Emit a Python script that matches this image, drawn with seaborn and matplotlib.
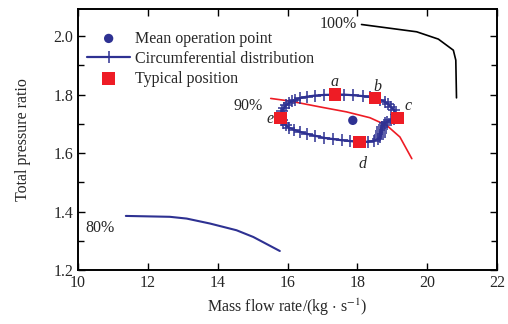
import numpy as np
import pandas as pd
import matplotlib
matplotlib.use("Agg")
import matplotlib.pyplot as plt
import seaborn as sns
from matplotlib.ticker import MultipleLocator

sns.set_style("ticks")
plt.rcParams['font.family'] = ['Liberation Serif', 'DejaVu Serif']
plt.rcParams['mathtext.fontset'] = 'stix'

# speed lines
x100 = [18.12, 19.70, 20.32, 20.75, 20.82, 20.84]
y100 = [2.040, 2.015, 1.990, 1.952, 1.918, 1.789]
x90 = [15.52, 16.07, 16.93, 17.69, 18.36, 18.84, 19.22, 19.56]
y90 = [1.787, 1.778, 1.758, 1.741, 1.721, 1.695, 1.655, 1.581]
x80 = [11.37, 12.63, 13.11, 13.78, 14.54, 15.02, 15.78]
y80 = [1.385, 1.382, 1.376, 1.359, 1.336, 1.313, 1.265]

# circumferential distribution (closed loop)
xc = [15.80, 15.82, 15.85, 15.90, 15.96, 16.03, 16.12, 16.22, 16.35, 16.55, 16.80, 17.05,
      17.36, 17.62, 17.88, 18.15, 18.35, 18.50, 18.65, 18.78, 18.88, 18.96, 19.04, 19.10,
      19.15, 19.05, 18.95, 18.86, 18.80, 18.75, 18.72, 18.70, 18.68, 18.67, 18.66, 18.64,
      18.58, 18.48, 18.30, 18.06, 17.80, 17.55, 17.30, 17.05, 16.80, 16.55, 16.35, 16.18,
      16.05, 15.95, 15.88, 15.83, 15.80]
yc = [1.721, 1.735, 1.745, 1.755, 1.763, 1.770, 1.777, 1.783, 1.788, 1.793, 1.797, 1.799,
      1.800, 1.800, 1.798, 1.795, 1.792, 1.789, 1.783, 1.776, 1.768, 1.758, 1.748, 1.735,
      1.721, 1.716, 1.712, 1.708, 1.703, 1.697, 1.690, 1.683, 1.676, 1.669, 1.662, 1.655,
      1.648, 1.642, 1.639, 1.638, 1.641, 1.644, 1.648, 1.652, 1.659, 1.666, 1.673, 1.680,
      1.687, 1.695, 1.703, 1.712, 1.721]

# mean operation point
xm = [17.87]
ym = [1.712]

# typical positions
pos_labels = ['a', 'b', 'c', 'd', 'e']
xt = [17.36, 18.50, 19.15, 18.06, 15.80]
yt = [1.800, 1.789, 1.721, 1.638, 1.721]

navy = '#2E3192'
red = '#EE1C25'

fig = plt.figure(figsize=(5.08, 3.24), dpi=100)
ax = fig.add_axes([78/508, 1-270/324, (497-78)/508, (270-9)/324])

kw = dict(ax=ax, sort=False, estimator=None, errorbar=None)
sns.lineplot(x=x100, y=y100, color='black', lw=1.2, **kw)
sns.lineplot(x=x90, y=y90, color=red, lw=1.2, **kw)
sns.lineplot(x=x80, y=y80, color=navy, lw=1.5, **kw)

sns.scatterplot(x=xm, y=ym, ax=ax, color=navy, s=45, edgecolor='none', zorder=5,
                label='Mean operation point')
sns.lineplot(x=xc, y=yc, color=navy, lw=1.6, marker='+',
             markersize=8, markeredgewidth=1.1, markeredgecolor=navy,
             label='Circumferential distribution', **kw)
sns.scatterplot(x=xt, y=yt, ax=ax, color=red, marker='s', s=80, edgecolor='none',
                zorder=6, label='Typical position')

# annotations
fs = 11.5
ax.text(18.0, 2.040, '100%', fontsize=fs, ha='right', va='center')
ax.text(15.3, 1.790, '90%', fontsize=fs, ha='right', va='top')
ax.text(10.2, 1.345, '80%', fontsize=fs, ha='left', va='center')
lab_off = {'a': (0.0, 0.043), 'b': (0.08, 0.036), 'c': (0.30, 0.041),
           'd': (0.10, -0.074), 'e': (-0.29, -0.003)}
for l, x, y in zip(pos_labels, xt, yt):
    dx, dy = lab_off[l]
    ax.text(x + dx, y + dy, l, fontsize=fs, style='italic', ha='center', va='center')

ax.set_xlim(10, 22)
ax.set_ylim(1.2, 2.093)
ax.xaxis.set_major_locator(MultipleLocator(2))
ax.yaxis.set_minor_locator(MultipleLocator(0.1))
ax.set_yticks([1.2, 1.4, 1.6, 1.8, 2.0])
ax.set_yticklabels(['1.2', '1.4', '1.6', '1.8', '2.0'])
ax.tick_params(which='both', direction='in', top=True, right=True, labelsize=fs,
               width=1.0, color='black')
ax.tick_params(which='major', length=5)
ax.tick_params(which='minor', length=4)
for s in ax.spines.values():
    s.set_linewidth(1.4)
    s.set_color('black')

ax.set_xlabel('Mass flow rate/(kg $\\cdot$ s$^{-1}$)', fontsize=fs, labelpad=4)
ax.set_ylabel('Total pressure ratio', fontsize=fs, labelpad=16)

leg = ax.legend(loc='upper left', frameon=False, fontsize=fs, handlelength=2.7,
                handletextpad=0.3, labelspacing=0.25, borderaxespad=0.3,
                bbox_to_anchor=(-0.005, 0.96))

fig.savefig('out.png', dpi=100)
